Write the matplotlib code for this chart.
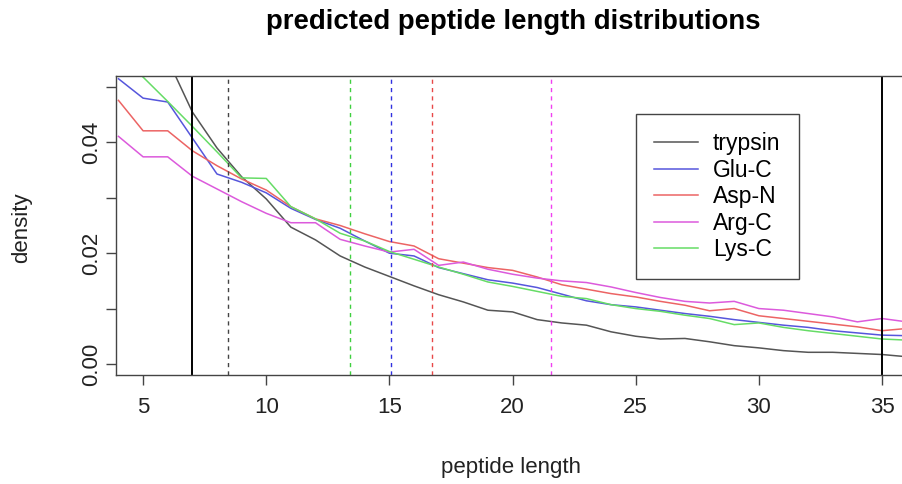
import numpy as np
import matplotlib
matplotlib.use('Agg')
import matplotlib.pyplot as plt

plt.rcParams['font.family'] = ['Liberation Sans', 'DejaVu Sans']

# peptide lengths and predicted densities per enzyme
lengths = np.arange(4, 37)
enzymes = ['trypsin', 'Glu-C', 'Asp-N', 'Arg-C', 'Lys-C']

trypsin = [0.075, 0.066, 0.055, 0.0455, 0.0390, 0.0338, 0.0298, 0.0247, 0.0224, 0.0195,
           0.0175, 0.0158, 0.0141, 0.0125, 0.0112, 0.0097, 0.0094, 0.0080, 0.0074, 0.0070,
           0.0058, 0.0050, 0.0045, 0.0046, 0.0040, 0.0033, 0.0029, 0.0024, 0.0021, 0.0021,
           0.0019, 0.0017, 0.0013]
gluc = [0.0515, 0.0480, 0.0473, 0.0408, 0.0343, 0.0328, 0.0309, 0.0281, 0.0261, 0.0245,
        0.0222, 0.0200, 0.0195, 0.0174, 0.0163, 0.0152, 0.0146, 0.0138, 0.0126, 0.0114,
        0.0107, 0.0103, 0.0097, 0.0091, 0.0086, 0.0080, 0.0075, 0.0070, 0.0066, 0.0060,
        0.0056, 0.0052, 0.0051]
aspn = [0.0476, 0.0421, 0.0421, 0.0385, 0.0358, 0.0334, 0.0314, 0.0284, 0.0262, 0.0250,
        0.0235, 0.0221, 0.0213, 0.0190, 0.0182, 0.0174, 0.0169, 0.0157, 0.0143, 0.0135,
        0.0127, 0.0121, 0.0113, 0.0106, 0.0096, 0.0100, 0.0087, 0.0082, 0.0077, 0.0072,
        0.0067, 0.0060, 0.0064]
argc = [0.0411, 0.0374, 0.0374, 0.0339, 0.0316, 0.0293, 0.0272, 0.0255, 0.0255, 0.0225,
        0.0213, 0.0202, 0.0207, 0.0178, 0.0184, 0.0171, 0.0162, 0.0155, 0.0150, 0.0147,
        0.0139, 0.0129, 0.0120, 0.0113, 0.0110, 0.0113, 0.0100, 0.0097, 0.0091, 0.0085,
        0.0076, 0.0082, 0.0076]
lysc = [0.0560, 0.0518, 0.0474, 0.0429, 0.0383, 0.0336, 0.0335, 0.0284, 0.0262, 0.0236,
        0.0222, 0.0203, 0.0189, 0.0175, 0.0162, 0.0148, 0.0140, 0.0131, 0.0122, 0.0118,
        0.0107, 0.0100, 0.0095, 0.0088, 0.0082, 0.0071, 0.0074, 0.0066, 0.0060, 0.0055,
        0.0050, 0.0045, 0.0043]

# mean lengths (dashed) and length cut-offs (solid)
means = [8.45, 15.05, 16.75, 21.55, 13.4]
cutoffs = [7, 35]

colors = ['#555555', '#5656dc', '#ec6464', '#dc5adc', '#66dc66']
dash_colors = ['#444444', '#3030e0', '#e84848', '#f040f0', '#40d040']

fig = plt.figure(figsize=(9.02, 4.84), dpi=100)
W, H = 902.0, 484.0
# right border of the frame falls outside the picture, like the original crop
ax = fig.add_axes([116 / W, 1 - 375 / H, (915 - 116) / W, (375 - 76) / H])

series = [trypsin, gluc, aspn, argc, lysc]
for vals, name, c in zip(series, enzymes, colors):
    ax.plot(lengths, vals, color=c, lw=1.1, label=name)

for m, c in zip(means, dash_colors):
    ax.axvline(m, color=c, lw=1.0, ls=(0, (3, 3)))
for xc in cutoffs:
    ax.axvline(xc, color='black', lw=1.4)

ax.set_xlim(3.9, 36.34)
ax.set_ylim(-0.002, 0.052)
ax.set_xticks([5, 10, 15, 20, 25, 30, 35])
ax.set_yticks([0.0, 0.01, 0.02, 0.03, 0.04, 0.05])
ax.set_yticklabels(['0.00', '', '0.02', '', '0.04', ''], rotation=90, va='center')
ax.tick_params(axis='both', labelsize=16, length=7, width=1, color='#444444',
               labelcolor='#222222')
ax.tick_params(axis='x', pad=9)
ax.tick_params(axis='y', pad=3)
for s in ax.spines.values():
    s.set_color('#444444')
    s.set_linewidth(1)

fig.text(511 / W, 1 - 468 / H, 'peptide length', fontsize=16, ha='center', va='center',
         color='#222222')
fig.text(22 / W, 1 - 228 / H, 'density', fontsize=16, ha='center', va='center',
         rotation=90, color='#222222')
fig.text(513 / W, 1 - 22 / H, 'predicted peptide length distributions', fontsize=19.8,
         fontweight='bold', ha='center', va='center')

leg = ax.legend(loc='upper left', bbox_to_anchor=(636 / W, 1 - 114 / H),
                bbox_transform=fig.transFigure, borderaxespad=0, fontsize=16.5,
                fancybox=False, framealpha=1, edgecolor='#444444', handlelength=1.9,
                handletextpad=0.65, labelspacing=0.15, borderpad=0.8)
leg.get_frame().set_linewidth(1)

fig.savefig('out.png', dpi=100)
